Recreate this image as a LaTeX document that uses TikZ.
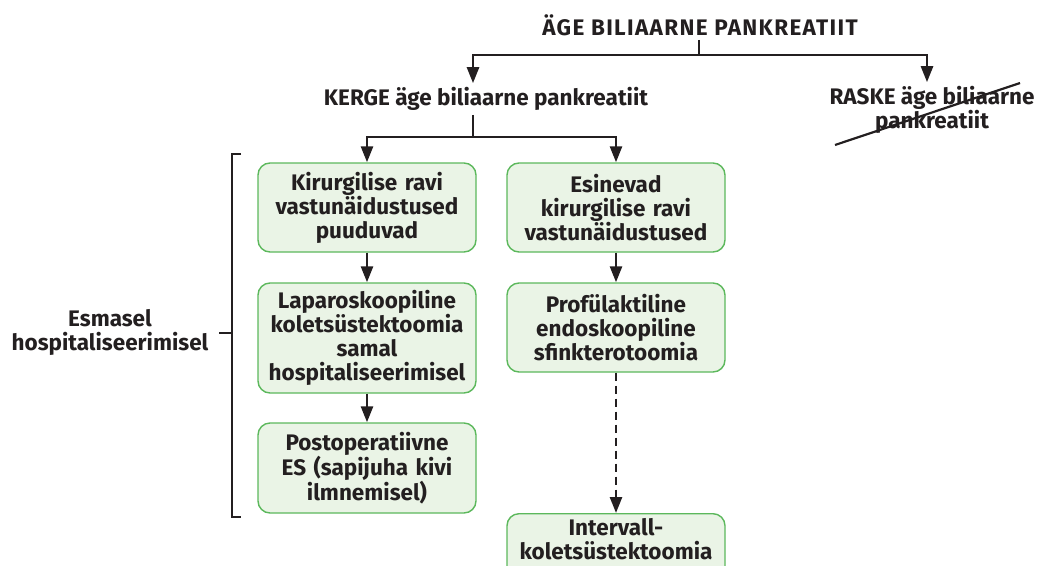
\documentclass[tikz,border=0pt]{standalone}
\usepackage{fontspec}
\setmainfont{Fira Sans}
\newfontfamily\spacedfont[LetterSpace=6]{Fira Sans}
\usetikzlibrary{arrows.meta,positioning}
\definecolor{boxfill}{HTML}{EAF4E6}
\definecolor{boxline}{HTML}{5CB85C}
\definecolor{ink}{HTML}{231F20}

\begin{document}
\begin{tikzpicture}[x=1pt,y=1pt,
   font=\bfseries\fontsize{22.5}{24}\selectfont, text=ink,
   line/.style={draw=ink,line width=2.6pt},
   arr/.style={line,-{Triangle[length=16pt,width=12pt]}},
   stepbox/.style={draw=boxline,fill=boxfill,line width=1.4pt,rounded corners=12pt,
                   text width=210pt,align=center,minimum width=218pt,inner sep=0pt},
   caption/.style={align=center,inner sep=4pt}]
   \useasboundingbox (0,0) rectangle (1054,-565);

   % headings
   \node[caption,font=\spacedfont\bfseries\fontsize{22.5}{24}\selectfont] (title) at (700,-25) {ÄGE BILIAARNE PANKREATIIT};
   \node[caption] (kerge) at (486,-99) {KERGE äge biliaarne pankreatiit};
   \node[caption] (raske) at (932,-110) {RASKE äge biliaarne\\pankreatiit};
   \coordinate (split1) at (699,-55);
   \coordinate (split2) at (473,-137);

   % left column
   \node[stepbox,minimum height=89pt] (k1) at (367,-207.5)
      {Kirurgilise ravi\\vastunäidustused\\puuduvad};
   \node[stepbox,minimum height=110pt] (k2) at (367,-338)
      {Laparoskoopiline\\koletsüstektoomia\\samal\\hospitaliseerimisel};
   \node[stepbox,minimum height=90pt] (k3) at (367,-468)
      {Postoperatiivne\\ES (sapijuha kivi\\ilmnemisel)};

   % right column
   \node[stepbox,minimum height=89pt] (e1) at (616,-207.5)
      {Esinevad\\kirurgilise ravi\\vastunäidustused};
   \node[stepbox,minimum height=89pt] (e2) at (616,-327.5)
      {Profülaktiline\\endoskoopiline\\sfinkterotoomia};
   \node[stepbox,text height=22pt,text depth=50pt,anchor=north] (e3) at (616,-513)
      {Intervall-\\koletsüstektoomia};

   % bracket
   \node[caption] (esm) at (110,-332) {Esmasel\\hospitaliseerimisel};
   \coordinate (brtop) at (241,-154);
   \coordinate (brbot) at (241,-517);
   \coordinate (brmid) at (232,-333);
   \draw[line,line width=2.2pt] (brtop) -- ++(-9,0) |- (brbot);
   \draw[line,line width=2.2pt] (brmid) -- ++(-13,0);

   \draw[line] (title.south -| split1) -- (split1);
   \draw[arr] (split1) -| ([xshift=-13pt]kerge.north);
   \draw[arr] (split1) -| ([xshift=-5pt]raske.north);
   \draw[line] (kerge.south -| split2) -- (split2);
   \draw[arr] (split2) -| (k1);
   \draw[arr] (split2) -| (e1);
   \draw[arr] (k1) -- (k2);
   \draw[arr] (k2) -- (k3);
   \draw[arr] (e1) -- (e2);
   \draw[arr,dashed,dash pattern=on 8pt off 5pt] (e2) -- (e3);

   % crossed out
   \draw[line,line width=2.2pt] ([shift={(-97,-35)}]raske.center) -- ([shift={(88,27)}]raske.center);
\end{tikzpicture}
\end{document}
